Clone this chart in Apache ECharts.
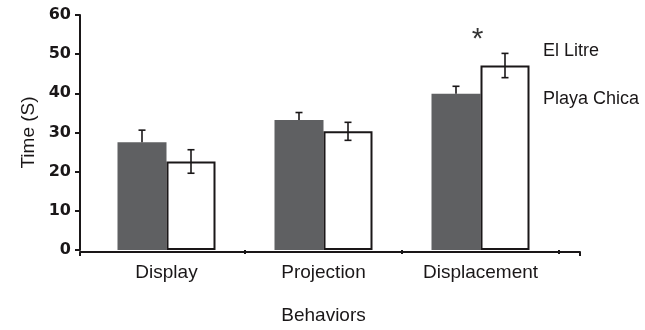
<!DOCTYPE html>
<html><head><meta charset="utf-8">
<script src="https://cdn.jsdelivr.net/npm/echarts@6/dist/echarts.min.js"></script>
<style>html,body{margin:0;padding:0;background:#fff}#c{width:645px;height:330px}</style>
</head><body><div id="c"></div>
<script>
const categories = ['Display', 'Projection', 'Displacement'];
const elLitre = [27.5, 33.2, 39.9];
const elLitreErr = [3.1, 1.9, 1.9];
const playaChica = [22.6, 30.3, 47.1];
const playaChicaErr = [3.0, 2.3, 3.1];
const seriesNames = ['El Litre', 'Playa Chica'];
const yMin = 0, yMax = 60, yStep = 10;
const sigMark = { category: 'Displacement', value: 55, text: '*' };

const INK = '#1a1718';
const DARK = '#5f6062';
const FONT = 'Liberation Sans, Arial, sans-serif';
const BAR_W = 49;

function errData(vals, errs) { return vals.map((v, i) => [i, v, errs[i]]); }

function errRender(offset, upperOnly) {
  return function (params, api) {
    const i = api.value(0), v = api.value(1), e = api.value(2);
    const top = api.coord([i, v + e]);
    const bot = api.coord([i, upperOnly ? v : v - e]);
    const x = top[0] + offset;
    const cap = 3.5;
    const children = [
      { type: 'line', shape: { x1: x, y1: top[1], x2: x, y2: bot[1] }, style: { stroke: INK, lineWidth: 1.6 } },
      { type: 'line', shape: { x1: x - cap, y1: top[1], x2: x + cap, y2: top[1] }, style: { stroke: INK, lineWidth: 1.6 } }
    ];
    if (!upperOnly) children.push({ type: 'line', shape: { x1: x - cap, y1: bot[1], x2: x + cap, y2: bot[1] }, style: { stroke: INK, lineWidth: 1.6 } });
    return { type: 'group', children };
  };
}

const chart = echarts.init(document.getElementById('c'), null, { renderer: 'canvas' });
chart.setOption({
  animation: false,
  backgroundColor: '#fff',
  textStyle: { fontFamily: FONT, color: INK },
  grid: [
    { left: 88, width: 471, top: 15, bottom: 78 },
    { left: 80, right: 65, top: 15, bottom: 78 }
  ],
  legend: {
    data: seriesNames,
    orient: 'vertical',
    left: 533, top: 37,
    icon: 'none', itemWidth: 0, itemHeight: 14, itemGap: 30,
    textStyle: { fontSize: 18, color: INK, fontFamily: FONT },
    selectedMode: false
  },
  xAxis: [
    {
      type: 'category', gridIndex: 0, data: categories,
      axisLine: { show: false },
      axisTick: { show: true, length: 4, lineStyle: { color: INK, width: 2 }, interval: function (idx) { return idx === 1 || idx === 2; } },
      axisLabel: { fontSize: 19, color: INK, margin: 13, fontFamily: FONT },
      name: 'Behaviors', nameLocation: 'middle', nameGap: 56,
      nameTextStyle: { fontSize: 19, color: INK, fontFamily: FONT }
    },
    {
      type: 'value', gridIndex: 1, min: 0, max: 1, interval: 1,
      axisLine: { show: true, lineStyle: { color: INK, width: 2 } },
      axisTick: { show: true, length: 4, lineStyle: { color: INK, width: 2 } },
      axisLabel: { show: false }, splitLine: { show: false }
    }
  ],
  yAxis: [
    {
      type: 'value', gridIndex: 0, min: yMin, max: yMax, interval: yStep, offset: 8,
      axisLine: { show: true, lineStyle: { color: INK, width: 2 } },
      axisTick: { show: true, length: 5, lineStyle: { color: INK, width: 2 } },
      axisLabel: { fontSize: 16, fontWeight: 'bold', color: INK, margin: 9, fontFamily: 'DejaVu Sans' },
      splitLine: { show: false },
      name: 'Time (S)', nameLocation: 'middle', nameGap: 38,
      nameTextStyle: { fontSize: 19, color: INK, fontFamily: FONT }
    },
    { type: 'value', gridIndex: 1, show: false, min: 0, max: 1 }
  ],
  series: [
    {
      name: seriesNames[0], type: 'bar', xAxisIndex: 0, yAxisIndex: 0,
      data: elLitre, barWidth: BAR_W, barGap: '0%',
      itemStyle: { color: DARK }
    },
    {
      name: seriesNames[1], type: 'bar', xAxisIndex: 0, yAxisIndex: 0,
      data: playaChica, barWidth: BAR_W, barGap: '0%',
      itemStyle: { color: '#fff', borderColor: INK, borderWidth: 2 }
    },
    {
      type: 'scatter', xAxisIndex: 0, yAxisIndex: 0, z: 6,
      data: [[sigMark.category, sigMark.value]],
      symbolSize: 1, itemStyle: { color: 'rgba(0,0,0,0)' },
      label: { show: true, position: 'inside', formatter: sigMark.text, fontSize: 30, color: '#000', fontFamily: FONT, offset: [-3, 5] },
      silent: true
    },
    {
      type: 'custom', xAxisIndex: 0, yAxisIndex: 0, z: 5,
      data: errData(elLitre, elLitreErr), encode: { x: 0, y: 1 },
      renderItem: errRender(-BAR_W / 2, true)
    },
    {
      type: 'custom', xAxisIndex: 0, yAxisIndex: 0, z: 5,
      data: errData(playaChica, playaChicaErr), encode: { x: 0, y: 1 },
      renderItem: errRender(BAR_W / 2, false)
    }
  ]
});
</script></body></html>
